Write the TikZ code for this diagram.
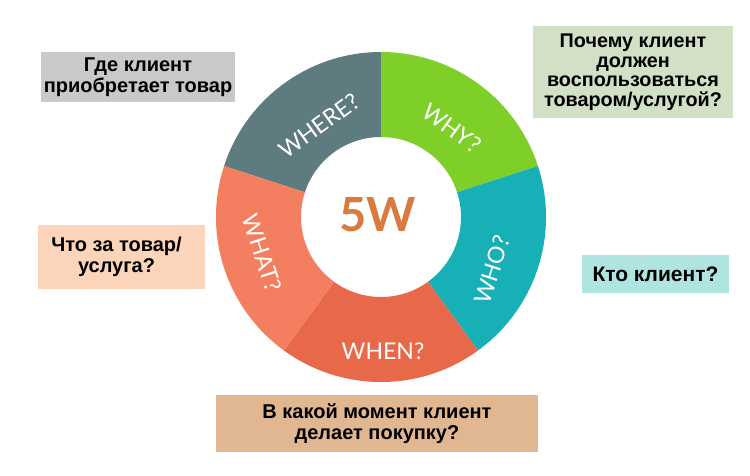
\documentclass[tikz,border=0pt]{standalone}
\usepackage{fontspec}
\setmainfont{Liberation Sans}
\newfontfamily\latofont{Lato}
\definecolor{cwhere}{HTML}{5E7B80}
\definecolor{cwhy}{HTML}{7ECF28}
\definecolor{cwho}{HTML}{17B0B6}
\definecolor{cwhen}{HTML}{E8694A}
\definecolor{cwhat}{HTML}{F47E60}
\definecolor{cfive}{HTML}{D97A3E}
\definecolor{bgray}{HTML}{C9C9C9}
\definecolor{bgreen}{HTML}{D2E0C6}
\definecolor{bpeach}{HTML}{FBD4BA}
\definecolor{bcyan}{HTML}{AFE4E0}
\definecolor{btan}{HTML}{E1B792}
\tikzset{
  ringlab/.style={font=\latofont\fontsize{23}{23}\selectfont, text=white, inner sep=0pt},
  boxtext/.style={font=\bfseries\fontsize{20}{20.5}\selectfont, align=center, text=black, inner sep=0pt},
  infobox/.style={draw=none, inner sep=0pt, anchor=center},
}
\begin{document}
\begin{tikzpicture}[x=1pt,y=1pt]
\useasboundingbox[fill=white] (0,0) rectangle (750,-475);
\coordinate (C) at (381,-217);
% ring segments
\foreach \a/\b/\c in {90/162/cwhere, 18/90/cwhy, -54/18/cwho, -126/-54/cwhen, 162/234/cwhat}{
  \fill[\c] ([shift={(\a:165)}]C) arc[start angle=\a,end angle=\b,radius=165]
    -- ([shift={(\b:80)}]C) arc[start angle=\b,end angle=\a,radius=80] -- cycle;
}
% centre
\node[font=\latofont\bfseries\fontsize{47}{47}\selectfont, text=cfive, inner sep=0pt] (five) at (378,-215) {5W};
% ring labels
\node[ringlab, rotate=36] (lwhere) at (319,-126) {WHERE?};
\node[ringlab, rotate=-36] (lwhy) at (452,-128) {WHY?};
\node[ringlab, rotate=72] (lwho) at (492,-270) {WHO?};
\node[ringlab] (lwhen) at (383,-351) {WHEN?};
\node[ringlab, rotate=-72] (lwhat) at (262,-253) {WHAT?};
% boxes
\node[infobox, fill=bgray, minimum width=194pt, minimum height=50pt] (b1) at (138,-77) {};
\node[boxtext] (t1) at (b1.center) {Где клиент\\приобретает товар};
\node[infobox, fill=bgreen, minimum width=200pt, minimum height=92pt] (b2) at (633,-72) {};
\node[boxtext, font=\bfseries\fontsize{19.8}{19.5}\selectfont] (t2) at (b2.center) {Почему клиент\\должен\\воспользоваться\\товаром/услугой?};
\node[infobox, fill=bpeach, minimum width=167pt, minimum height=64pt] (b3) at (121.5,-257) {};
\node[boxtext] (t3) at ([xshift=-5pt]b3.center) {Что за товар/\\услуга?};
\node[infobox, fill=bcyan, minimum width=147pt, minimum height=38pt] (b4) at (655.5,-274) {};
\node[boxtext, font=\bfseries\fontsize{21}{21}\selectfont] (t4) at (b4.center) {Кто клиент?};
\node[infobox, fill=btan, minimum width=322pt, minimum height=57pt] (b5) at (377,-423.5) {};
\node[boxtext] (t5) at (b5.center) {В какой момент клиент\\делает покупку?};
\end{tikzpicture}
\end{document}
